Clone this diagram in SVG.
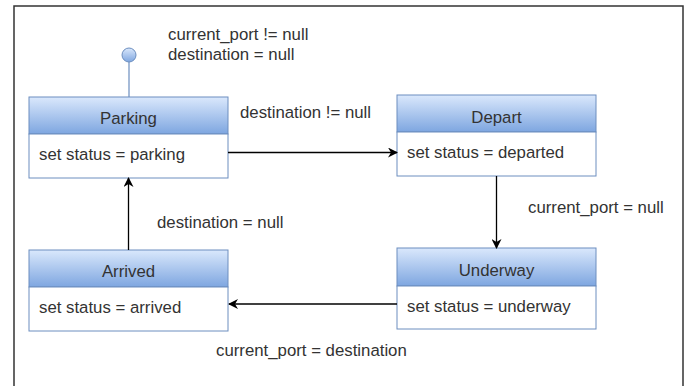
<svg xmlns="http://www.w3.org/2000/svg" width="691" height="386" viewBox="0 0 691 386">
<defs>
<linearGradient id="hg" x1="0" y1="0" x2="0" y2="1">
<stop offset="0" stop-color="#dae8fc"/>
<stop offset="1" stop-color="#7ea6e0"/>
</linearGradient>
<marker id="ah" viewBox="0 0 10 10" refX="9" refY="5" markerWidth="10" markerHeight="10" markerUnits="userSpaceOnUse" orient="auto">
<path d="M0,0 L10,5 L0,10 L3,5 Z" fill="#000"/>
</marker>
</defs>
<style>
text{font-family:"Liberation Sans",Arial,sans-serif;font-size:16.8px;fill:#333}
.title{text-anchor:middle}
.hdr{fill:url(#hg);stroke:#6c8ebf;stroke-width:1}
.body{fill:#fff;stroke:#6c8ebf;stroke-width:1}
.edge{fill:none;stroke:#000;stroke-width:1.3;marker-end:url(#ah)}
</style>
<rect x="0" y="0" width="691" height="386" fill="#fff"/>
<path d="M14,390 L14,6 L683,6 L683,390" fill="none" stroke="#333" stroke-width="1.5"/>

<g id="initial">
<line x1="129" y1="62" x2="129" y2="97" stroke="#6c8ebf" stroke-width="1.2"/>
<circle cx="129" cy="55" r="7" fill="url(#hg)" stroke="#6c8ebf" stroke-width="1"/>
</g>

<g id="parking">
<rect class="hdr" x="29" y="97" width="199" height="37"/>
<rect class="body" x="29" y="134" width="199" height="44"/>
<text class="title" x="128.5" y="124">Parking</text>
<text x="39" y="160">set status = parking</text>
</g>

<g id="depart">
<rect class="hdr" x="397" y="95" width="199" height="37"/>
<rect class="body" x="397" y="132" width="199" height="44"/>
<text class="title" x="496.5" y="123">Depart</text>
<text x="407" y="158">set status = departed</text>
</g>

<g id="arrived">
<rect class="hdr" x="29" y="250" width="199" height="37"/>
<rect class="body" x="29" y="287" width="199" height="44"/>
<text class="title" x="128.5" y="277">Arrived</text>
<text x="39" y="313">set status = arrived</text>
</g>

<g id="underway">
<rect class="hdr" x="397" y="248" width="199" height="38"/>
<rect class="body" x="397" y="286" width="199" height="43"/>
<text class="title" x="496.5" y="276">Underway</text>
<text x="407" y="312">set status = underway</text>
</g>

<g id="connectors">
<line class="edge" x1="228" y1="152.5" x2="397" y2="152.5"/>
<line class="edge" x1="496.5" y1="176" x2="496.5" y2="248"/>
<line class="edge" x1="397" y1="304" x2="229" y2="304"/>
<line class="edge" x1="128.5" y1="250" x2="128.5" y2="178"/>
</g>

<g id="labels">
<text x="168" y="40">current_port != null</text>
<text x="168" y="60">destination = null</text>
<text x="240" y="118">destination != null</text>
<text x="528" y="213">current_port = null</text>
<text x="157" y="228">destination = null</text>
<text x="216" y="356">current_port = destination</text>
</g>
</svg>
